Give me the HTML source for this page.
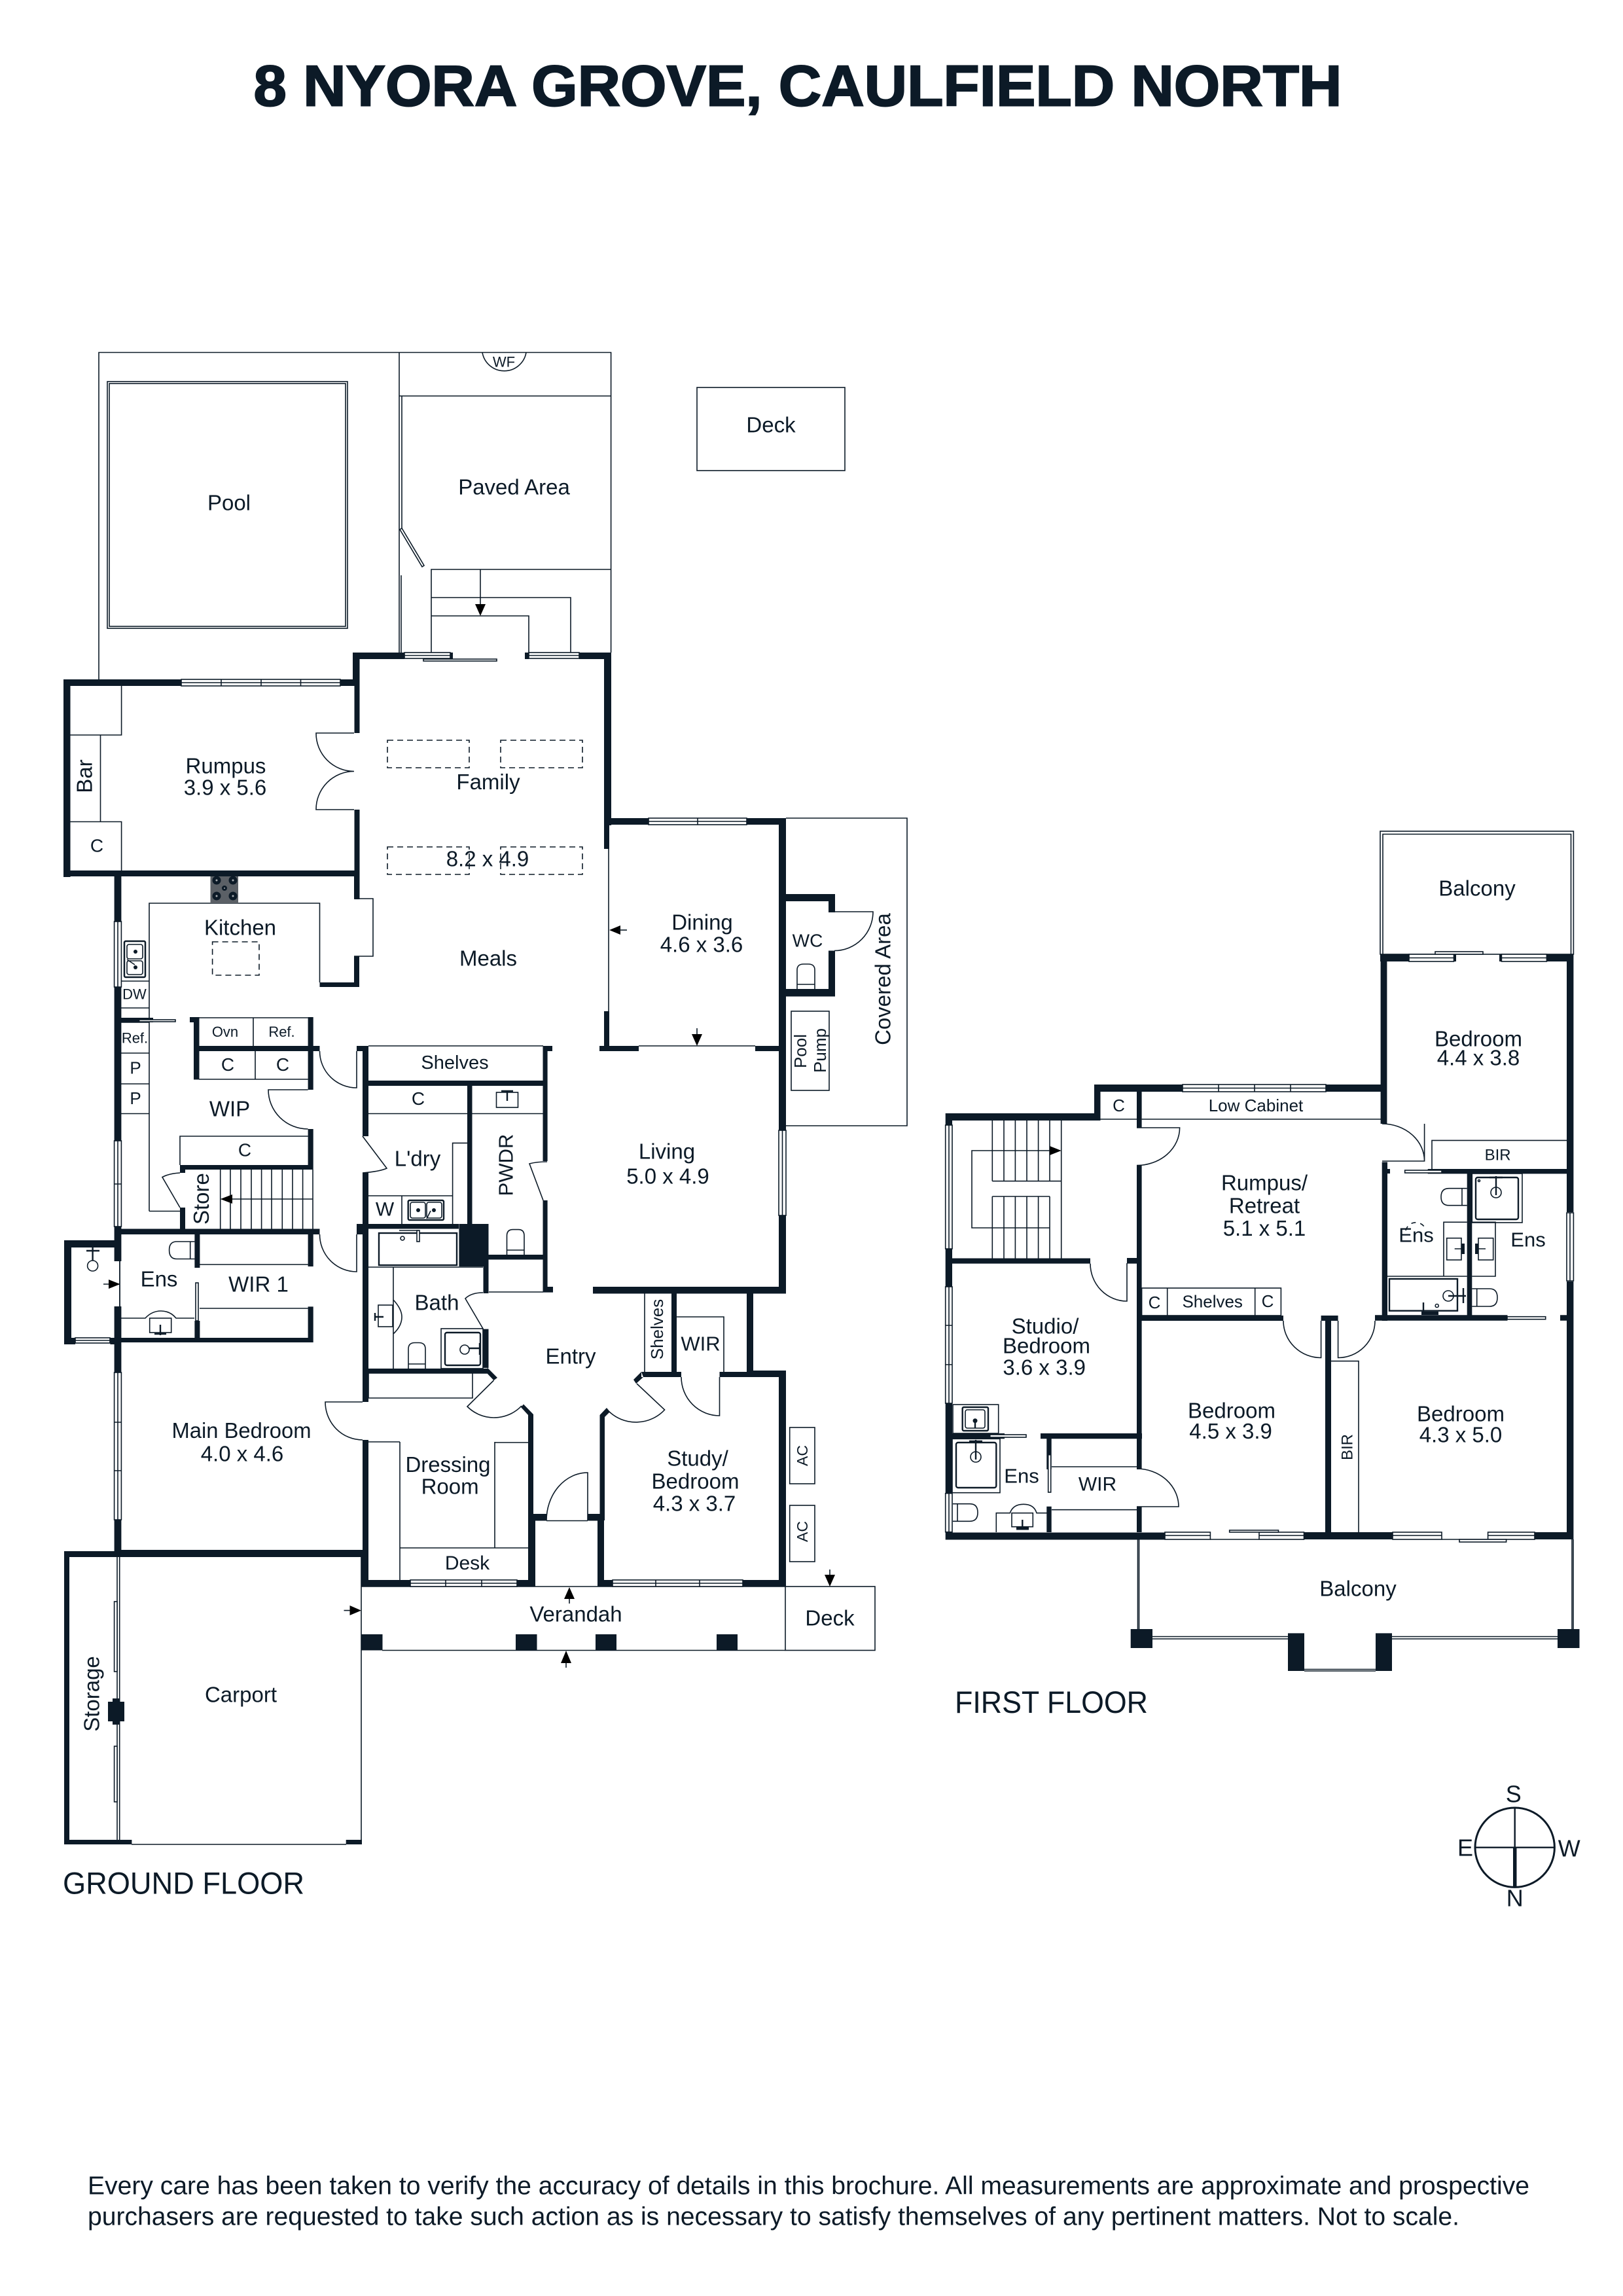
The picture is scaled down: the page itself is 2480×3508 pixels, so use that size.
<!DOCTYPE html>
<html lang="en"><head><meta charset="utf-8"><title>8 Nyora Grove, Caulfield North</title>
<style>
html,body{margin:0;padding:0;background:#fff}
svg{display:block}
text{font-family:"Liberation Sans",sans-serif;fill:#0c1a27;text-anchor:middle;dominant-baseline:central;font-size:33px}
.s{font-size:28px}.xs{font-size:22px}.m{font-size:26px}
.w{fill:#0c1a27;stroke:none}
.l{fill:none;stroke:#0c1a27;stroke-width:1.6}
.f{fill:#fff;stroke:#0c1a27;stroke-width:1.6}
.h{fill:none;stroke:#0c1a27;stroke-width:2.4}
.d{fill:none;stroke:#0c1a27;stroke-width:1.6;stroke-dasharray:9 6}
.a{fill:#000}
</style></head><body>
<svg xmlns="http://www.w3.org/2000/svg" width="2480" height="3508" viewBox="0 0 2480 3508">
<rect width="2480" height="3508" fill="#fff"/>
<text x="1219" y="131" style="font-size:88px;font-weight:bold;stroke:#0c1a27;stroke-width:2" textLength="1663" lengthAdjust="spacingAndGlyphs">8 NYORA GROVE, CAULFIELD NORTH</text>

<!-- thin outlines ground -->
<path class="l" d="M151 1038V538.5H933.6V997M610 538.5V997M610 605H933.6M614 605V807M613 879V997M659 997V870H933.6M659 913H872V997M659 941H808V997"/>
<rect class="l" x="164" y="583" width="367" height="377"/><rect class="l" x="167" y="586" width="361" height="371"/>
<path class="f" d="M611 809L614 807L648 864L645 866Z"/>
<path class="l" d="M737 538.5A34 34 0 0 0 804 538.5"/>
<path class="l" d="M734 870V925"/><path class="a" d="M726 923H742L734 941Z"/>
<rect class="l" x="1065" y="592" width="226" height="127"/>
<!-- rumpus -->
<path class="l" d="M107.5 1123H185.6V1048M153.5 1123V1255.5M107.5 1255.5H185.6V1330M541 1120H483A58 58 0 0 0 541 1178.5M541 1237H483A58 58 0 0 1 541 1178.5"/>
<g class="d"><rect class="d" x="592" y="1131" width="125" height="42"/><rect class="d" x="765" y="1131" width="125" height="42"/><rect class="d" x="592" y="1294" width="125" height="42"/><rect class="d" x="765" y="1294" width="125" height="42"/><rect class="d" x="324.6" y="1439" width="71.4" height="51"/></g>
<!-- kitchen -->
<path class="l" d="M541 1373H570V1461H541M228 1850.5V1380H488.5V1501M228 1850.5H275M185 1499H228M185 1540H228M185 1609H228M185 1656H228M185 1701.5H228M185 1562H228"/>
<rect x="321.5" y="1338" width="42.5" height="42" fill="#5b6066"/>
<g fill="#a9adb1" stroke="#0c1a27" stroke-width="5"><circle cx="331" cy="1345" r="4"/><circle cx="356" cy="1345" r="4"/><circle cx="331" cy="1369" r="4"/><circle cx="356" cy="1369" r="4"/><circle cx="343" cy="1357" r="1.5"/></g>
<rect x="190" y="1438" width="32" height="55" fill="#fff" stroke="#0c1a27" stroke-width="2.5" rx="2"/><rect class="l" x="194" y="1443" width="24" height="22" rx="3"/><rect class="l" x="194" y="1468" width="24" height="21" rx="3"/><circle cx="207" cy="1454" r="3" class="w"/><circle cx="207" cy="1478" r="3" class="w"/><path class="l" d="M194 1466L206 1474"/>
<path class="l" d="M304.5 1555H470.6M387 1555V1598M304 1649H470.6M390 1606V1649M545 1606V1662A56.5 56 0 0 1 488.5 1606M470.6 1665H410A60.6 60 0 0 0 470.6 1725M275 1780V1736H470.6M275 1845L248 1798.5Q258 1793 275 1792"/>
<path class="l" d="M336.7 1787V1877.5M352 1787V1877.5M368 1787V1877.5M384 1787V1877.5M399.6 1787V1877.5M415 1787V1877.5M431.3 1787V1877.5M447 1787V1877.5M462.6 1787V1877.5M478 1787V1877.5M355 1832H478"/>
<path class="a" d="M336.7 1832L355 1825V1839Z"/>
<path class="l" d="M545 1886V1943A56.5 57 0 0 1 488.5 1886M305 1932H470.6M305 1999H470.6"/>
<path class="l" d="M554 1736L591 1785Q580 1790 554 1792M563 1598H830M563 1701.5H714M691.6 1870V1746.4H714M563 1827H691.6M614 1827V1870M563 1936H738M601 1936V2091M601 1986Q614 2000 614 2012Q614 2026 601 2038"/>
<rect x="623.7" y="1834" width="54.3" height="30" fill="#fff" stroke="#0c1a27" stroke-width="2.4" rx="2"/><rect class="l" x="627" y="1837" width="23" height="24" rx="3"/><rect class="l" x="652" y="1837" width="23" height="24" rx="3"/><circle class="w" cx="639" cy="1849" r="3"/><circle class="w" cx="663" cy="1849" r="3"/><path class="l" d="M652 1862L658 1850"/>
<!-- bath -->
<rect class="h" x="579" y="1884" width="119" height="49"/>
<path class="l" d="M610 1880H640"/><rect class="f" x="637" y="1880" width="4" height="17"/><circle class="l" cx="615" cy="1892" r="3"/>
<rect class="l" x="578" y="1994" width="22" height="33"/><path class="h" d="M572 2012H586M573 2006V2018"/>
<path class="l" d="M624 2091V2061Q624 2051.5 634 2051.5H640Q650 2051.5 650 2061V2091M624 2084H650"/>
<rect class="l" x="674" y="2030" width="64" height="61"/><rect class="h" x="680" y="2036" width="54" height="50" rx="3"/><circle class="l" cx="710" cy="2062" r="7"/><path class="h" d="M717 2060H734M733 2052V2070"/>
<!-- ens -->
<path class="l" d="M297.4 1897H270Q258.6 1897 258.6 1910Q258.6 1923.5 270 1923.5H297.4M290.7 1897V1923.5M185 2014H222Q232 2003 246 2003Q260 2003 269 2014H297"/>
<rect class="l" x="228.7" y="2014" width="33" height="22"/><path class="h" d="M245 2024V2040M236 2038H254"/>
<circle class="l" cx="141.6" cy="1934" r="8"/><path class="h" d="M141.6 1926V1906M132 1911H152"/>
<path class="l" d="M183 1927V1996M158 1962H183"/><path class="a" d="M183.6 1962L166 1955V1969Z"/>
<!-- pwdr -->
<rect class="l" x="758.5" y="1669" width="33" height="23"/><path class="h" d="M775 1668V1682M766 1667H784"/><path class="l" d="M721.5 1701.5H829.5"/>
<path class="l" d="M774.5 1917V1888Q774.5 1878.6 784 1878.6H792Q801 1878.6 801 1888V1917M774.5 1910H801"/>
<path class="l" d="M830 1834L809 1778Q820 1775 836 1775"/>
<path class="l" d="M747 1974H830"/>
<!-- dining / wc / covered -->
<path class="l" d="M930 1297V1545M976 1598H1154M1201 1250H1386V1720H1201"/>
<path class="a" d="M931 1421L948 1414V1428Z"/><path class="l" d="M945 1421H958"/>
<path class="l" d="M1065 1571V1585"/><path class="a" d="M1065 1598L1057 1580H1073Z"/>
<path class="l" d="M1275 1393H1334A59 59.5 0 0 1 1275 1452.5"/>
<path class="l" d="M1218 1511V1482Q1218 1473 1228 1473H1235Q1245 1473 1245 1482V1511M1218 1504H1245"/>
<rect class="l" x="1209" y="1545" width="58" height="121"/>
<!-- study etc -->
<path class="l" d="M985 1975V2096M1034 2012H1106V2096M1099.5 2104V2163A58.5 59 0 0 1 1041 2104M973 2114L1015.6 2154A60 60 0 0 1 930 2156M754.5 2109L714 2149A58 58 0 0 0 797 2148M738 2030L711 1984Q720 1975 738 1975M898 2323V2250A63 73 0 0 0 835 2323.5M835 2323.5H898"/>
<rect class="l" x="1206.7" y="2181" width="38.3" height="86"/><rect class="l" x="1206.7" y="2300" width="38.3" height="86"/>
<rect class="l" x="1200" y="2424" width="137" height="97.5"/>
<path class="l" d="M552 2424H1200M584 2521.5H1200M563 2098V2136H722V2098M554 2142H497A57 58 0 0 0 554 2200M563 2203H611M611 2203V2414M756 2203V2365M611 2365H807"/>
<path class="l" d="M756 2204H807"/>
<path class="l" d="M870 2443V2450M865 2535V2548M1268 2398V2410M525.5 2460.6H540"/>
<path class="a" d="M870 2425L862 2443H878ZM865 2522L857 2541H873ZM1268 2424L1260 2406H1276ZM552 2460.6L534.5 2453V2468Z"/>
<!-- carport -->
<path class="l" d="M552 2379V2818M201 2818H529M182.7 2379V2811M179 2379V2600M179 2635V2811"/>
<rect class="f" x="174.6" y="2447" width="4.4" height="107"/><rect class="f" x="174.6" y="2668" width="4.4" height="85"/>
<path class="w" d="M165 2600H172V2595H183V2600H190V2630H183V2635H172V2630H165Z"/>
<!-- walls ground -->
<path class="w" d="M539 997H618V1007H539ZM688 997H692V1007H688ZM802 997H808V1007H802ZM885 997H934V1007H885ZM539 997H549.5V1048H539ZM541.5 1048H549.5V1120H541.5ZM541.5 1237H549.5V1374H541.5ZM97 1038H277V1048H97ZM520 1038H541V1048H520ZM97 1038H107.5V1340H97ZM97 1330H549.5V1339H97ZM923 997H934V1261H923ZM923 1250H931V1297H923ZM923 1545H931V1598H923ZM916 1598H976V1606H916ZM1154 1598H1191V1606H1154ZM923 1250H991V1260H923ZM1141 1250H1201V1260H1141ZM1190 1250H1201V1727H1190ZM1190 1857H1201V1976H1190ZM1201 1366H1276V1377H1201ZM1266 1366H1276V1394H1266ZM1266 1452.5H1276V1522.5H1266ZM1190 1511H1276V1522.5H1190ZM906 1966H1201V1976.5H906ZM1026 1975H1034V2096H1026ZM1141 1975H1151V2094H1141ZM1141 2094H1201V2104H1141ZM980 2096H1041V2104H980ZM1099.5 2096H1151V2104H1099.5ZM980 2096L968 2108L972 2114L983 2104ZM1190 2094H1201V2424H1190ZM913 2414H936V2424H913ZM1135 2414H1201V2424H1135ZM916.5 2162L927 2151L932 2157L924 2165V2323H916.5ZM913 2313H923V2424H913ZM796 2150L800 2145.5L815 2161V2323H807V2162ZM807 2313H818V2424H807ZM807 2313H835V2323.5H807ZM898 2313H916V2323.5H898ZM552 2414H627V2424H552ZM790 2414H818V2424H790ZM174.6 1338H185.4V1408H174.6ZM174.6 1508H185.4V1743H174.6ZM174.6 1874H185.4V1927H174.6ZM174.6 1996H185.4V2097H174.6ZM174.6 2322H185.4V2379H174.6ZM185 1555H234V1562H185ZM541 1338H549V1373H541ZM541 1461H549V1508H541ZM488.5 1501H549V1508H488.5ZM290 1554H304.5V1562H290ZM296 1554H304.5V1649.5H296ZM304.5 1598H488.5V1606H304.5ZM470.6 1554H478.7V1665H470.6ZM470.6 1725H478.7V1787H470.6ZM275 1780H478.7V1787H275ZM275 1780H283V1792H275ZM275 1845H283V1877.5H275ZM174.6 1877.5H488.5V1886H174.6ZM545 1598H563V1606H545ZM554 1598H563V1736H554ZM554 1792H563V2142H554ZM554 2200H563V2414H554ZM563 1651H836V1659H563ZM829.5 1598H836.6V1774H829.5ZM836.6 1598H844V1606H836.6ZM829.5 1834H836.6V1973H829.5ZM829.5 1966H845V1974.6H829.5ZM714 1659H721.5V1870H714ZM701.4 1870H746.5V1935H701.4ZM545 1870H701V1877.5H545ZM545 1877.5H563V1886H545ZM738.5 1935H746.5V1976H738.5ZM738.5 2030.6H746.5V2090H738.5ZM746 1917H830V1924.5H746ZM554 2091H745V2098.8H554ZM744.6 2089.5L760 2105L754.5 2109L744.6 2098.6ZM297.4 1886H305.4V1937H297.4ZM297.4 2018H305.4V2051H297.4ZM470.6 1886H478.7V1935H470.6ZM470.6 1996.4H478.7V2051H470.6ZM174.6 2044H478.7V2051H174.6ZM98 1895H174.6V1906H98ZM98 1895H109V2054H98ZM98 2044H115V2054H98ZM168.4 2044H174.6V2054H168.4ZM174.6 2368H563V2379H174.6ZM98 2370H174.6V2379H98ZM98 2370H106V2818H98ZM98 2811H201.4V2818H98ZM528.7 2811H553V2818H528.7ZM552 2379H563V2422H552ZM552 2497H584.5V2521.5H552ZM788 2497H820.5V2521.5H788ZM910 2497H942V2521.5H910ZM1095 2497H1127V2521.5H1095Z"/>
<!-- windows ground -->
<g class="f">
<rect class="f" x="277" y="1038" width="243" height="10"/><rect class="f" x="618" y="997" width="70" height="9"/><rect class="f" x="808" y="997" width="77" height="9"/><rect class="f" x="647" y="1007" width="112" height="3"/><rect class="f" x="991" y="1250" width="150" height="10"/><rect class="f" x="936" y="2414" width="199" height="10"/><rect class="f" x="627" y="2414" width="163" height="10"/><rect class="f" x="115" y="2044" width="53" height="8"/><rect class="f" x="174.6" y="1408" width="10.8" height="100"/><rect class="f" x="174.6" y="1743" width="10.8" height="131"/><rect class="f" x="174.6" y="2097" width="10.8" height="225"/><rect class="f" x="1190" y="1727" width="11" height="130"/><rect class="f" x="212.6" y="1558" width="55.4" height="3"/><rect class="f" x="299" y="1960" width="4" height="58"/>
</g>
<path class="l" d="M277 1043H520M338 1038V1048M399 1038V1048M459.5 1038V1048M618 1001.5H688M808 1001.5H885M991 1255H1141M1066 1250V1260M936 2419H1135M1002 2414V2424M1069 2414V2424M627 2419H790M681 2414V2424M736 2414V2424M115 2048H168M180 1408V1508M180 1743V1874M174.6 1809H185.4M180 2097V2322M174.6 2173H185.4M174.6 2247H185.4M1195.5 1727V1857M183 1927V1996"/>

<!-- FIRST FLOOR thin -->
<rect class="l" x="2109" y="1270" width="295.4" height="188"/><path class="l" d="M2113 1458V1274.5H2400.5V1458"/>
<path class="l" d="M1744.6 1710H2111M1681.5 1710H1737M1737 1723H1802.6A65.6 57.6 0 0 1 1737 1780.6M2112 1774H2176.6A64.6 57 0 0 0 2112 1717M2176.6 1717V1774M2188 1786V1742.4H2394"/>
<path class="l" d="M1516.3 1712V1804.6M1534 1712V1804.6M1551.4 1712V1804.6M1569 1712V1804.6M1586.6 1712V1804.6M1604 1712V1804.6M1621.7 1712V1922.5M1516.3 1804.6H1621.7M1516.3 1828H1604M1516.3 1828V1922.5M1534 1828V1922.5M1551.4 1828V1922.5M1569 1828V1922.5M1586.6 1828V1922.5M1604 1828V1922.5M1604 1758H1485V1876H1604"/>
<path class="a" d="M1621.7 1758L1604 1751V1765Z"/>
<path class="l" d="M1722 1930V1988A56 57.4 0 0 1 1666 1930.6"/>
<rect class="l" x="1744.6" y="1968" width="212.8" height="42"/><path class="l" d="M1783.7 1968V2010M1917.7 1968V2010"/>
<path class="l" d="M2018.6 2018V2074.5A57.6 56.5 0 0 1 1961 2018M2044.6 2018V2074.5A56.4 56.5 0 0 0 2101 2018M2034 2079.6H2076V2341"/>
<!-- ens first floor -->
<rect class="l" x="2249.3" y="1793" width="76.7" height="75"/><rect class="h" x="2255" y="1799" width="65" height="64" rx="3"/><circle class="l" cx="2286" cy="1822" r="8"/><path class="h" d="M2286 1826V1797M2276 1799H2296"/><circle class="l" cx="2260" cy="1804" r="1.5"/>
<path class="l" d="M2241.7 1815.7H2214Q2202 1815.7 2202 1828.7Q2202 1841.7 2214 1841.7H2241.7M2234 1815.7V1841.7"/>
<path class="l" d="M2206 1950V1867.3H2241.7M2249.3 1867.3H2285V1950H2249.3M2120 1950H2241.7"/>
<rect class="l" x="2210.7" y="1891.7" width="22.3" height="33.3"/><rect class="l" x="2259" y="1891.7" width="22.7" height="33.3"/><path class="l" d="M2222.7 1908H2236M2256.7 1908H2270"/><path class="w" d="M2233 1900H2238V1916H2233ZM2254 1900H2259V1916H2254Z"/>
<rect class="h" x="2123" y="1954" width="104" height="48.7"/><circle class="l" cx="2213" cy="1980" r="8"/><path class="h" d="M2213 1980H2240M2236 1968V1991M2175 1990V2008"/><circle class="l" cx="2195.7" cy="1995" r="2.5"/><path class="w" d="M2172 2004H2198V2009H2172Z"/>
<path class="l" d="M2249.3 1969H2276Q2288 1969 2288 1982.5Q2288 1996 2276 1996H2249.3M2256.7 1969V1996"/>
<path class="d" d="M2148 1880A16 16 0 0 1 2178 1877" style="stroke-dasharray:7 7"/>
<!-- left ens / wir -->
<rect class="l" x="1456" y="2146" width="69.7" height="44"/><rect class="h" x="1470.7" y="2150" width="39.3" height="36" rx="2"/><rect class="l" x="1475" y="2154" width="30" height="28" rx="3"/><circle class="w" cx="1490" cy="2170.7" r="3.5"/><path class="h" d="M1490 2171V2182"/>
<rect class="l" x="1455" y="2198.3" width="73" height="82.4"/><rect class="h" x="1461" y="2204" width="61.3" height="69" rx="3"/><circle class="l" cx="1491" cy="2226" r="8"/><path class="h" d="M1491 2230V2200M1481 2202H1501"/>
<path class="l" d="M1607 2241H1737M1607 2306.7H1737M1737 2302H1801A64 58 0 0 0 1737 2244"/>
<path class="l" d="M1456 2297.7H1482Q1494 2297.7 1494 2311Q1494 2324.3 1482 2324.3H1456M1463 2297.7V2324.3"/>
<path class="l" d="M1522.3 2341V2311.7H1543.3Q1548 2298.3 1564 2298.3Q1580 2298.3 1584 2311.7H1599.6"/>
<rect class="l" x="1546" y="2311.7" width="32.3" height="21"/><path class="h" d="M1562.3 2322V2336"/><path class="w" d="M1553 2333.5H1572V2337.5H1553Z"/>
<path class="l" d="M1738.5 2352V2489M1740.5 2352V2489M2402 2352V2489M2404 2352V2489M1761 2500.5H1968M1761 2504H1968M2127 2500.5H2380M2127 2504H2380M1993 2550.5H2102M1993 2553H2102M1849 2352H1924M2203 2352H2274"/>
<!-- walls first floor -->
<path class="w" d="M2109 1458H2153V1469H2109ZM2221.5 1458H2225V1469H2221.5ZM2291 1458H2294.4V1469H2291ZM2363.4 1458H2404.4V1469H2363.4ZM2109.6 1458H2119.4V1717H2109.6ZM2111.7 1775.5H2120V2018H2111.7ZM2394 1458H2404.4V1852H2394ZM2394 1958H2404.4V2351.5H2394ZM1672 1657H1807V1668H1672ZM2026 1657H2109.6V1668H2026ZM1672 1657H1681.5V1712H1672ZM1444.7 1701H1681.5V1712H1444.7ZM1444.7 1701H1455V1719H1444.7ZM1444.7 1908H1455V1966H1444.7ZM1444.7 2144H1455V2281.6H1444.7ZM1444.7 2341.5H1780V2352.5H1444.7ZM1992.5 2341H2128V2352H1992.5ZM2345 2341H2404.4V2352H2345ZM1737 1668H1744.6V1723.5H1737ZM1737 1780.6H1744.6V2245H1737ZM1737 2301.7H1744.6V2341H1737ZM1722 1922H1737V1930.6H1722ZM2181.7 1786H2394V1793.4H2181.7ZM2241.7 1793H2249.3V2010H2241.7ZM1744.6 2010H1961V2018H1744.6ZM2018.6 2010H2044.6V2018H2018.6ZM2101 2009.3H2303.5V2017.7H2101ZM2384 2009.3H2394V2017.7H2384ZM1455 1922.5H1666V1930.6H1455ZM1445 2190H1535V2198.3H1445ZM1590 2190H1745V2198.3H1590ZM1599.3 2198H1606.7V2245H1599.3ZM1599.3 2301.7H1606.7V2341H1599.3ZM2025 2018H2034V2341H2025ZM1727.7 2489H1761V2518H1727.7ZM2380 2489H2413.5V2518H2380ZM1968 2495.4H1993V2553H1968ZM2102 2495.4H2127V2553H2102Z"/>
<path class="w" d="M2120 1786H2124V1793H2120Z"/>
<g>
<rect class="f" x="1807" y="1657" width="219" height="11"/><rect class="f" x="2153" y="1458" width="68.5" height="11"/><rect class="f" x="2294.4" y="1458" width="69" height="11"/><rect class="f" x="2193" y="1454" width="73" height="4"/><rect class="f" x="1780" y="2341" width="69.4" height="11"/><rect class="f" x="1924" y="2341" width="68.5" height="11"/><rect class="f" x="2128" y="2341" width="75" height="11"/><rect class="f" x="2273.6" y="2341" width="71.4" height="11"/><rect class="f" x="1878.7" y="2338" width="74.8" height="3"/><rect class="f" x="2230" y="2352" width="71.6" height="4"/><rect class="f" x="2394" y="1853" width="10.4" height="104"/><rect class="f" x="1444.7" y="1719" width="10.3" height="189"/><rect class="f" x="1444.7" y="1966" width="10.3" height="178"/><rect class="f" x="1444.7" y="2281.7" width="10.3" height="59"/><rect class="f" x="2146.7" y="1788" width="56.3" height="4"/><rect class="f" x="2303" y="2011.7" width="58.7" height="4"/><rect class="f" x="1512.7" y="2192" width="55.3" height="4"/><rect class="f" x="1601.7" y="2222.7" width="4" height="57.3"/>
</g>
<path class="l" d="M1807 1662.5H2026M1862 1657V1668M1917 1657V1668M1972 1657V1668M2153 1463.5H2221.5M2294.4 1463.5H2363.4M1780 2346H1849M1924 2346H1992.5M2128 2346H2203M2273.6 2346H2345M2399 1853V1957M1450 1719V1908M1450 1966V2144M1444.7 2025H1455M1444.7 2085H1455M1450 2281.7V2340.7"/>
<!-- compass -->
<circle cx="2314.7" cy="2822.7" r="60.7" fill="none" stroke="#0c1a27" stroke-width="3"/>
<path class="l" style="stroke-width:2.4" d="M2314.7 2762V2822.7M2254 2822.7H2375.4"/>
<rect class="w" x="2312" y="2822.7" width="5.5" height="60.7"/>
<g style="font-size:36px"><text x="2312.7" y="2741" style="font-size:36px">S</text><text x="2239" y="2823" style="font-size:36px">E</text><text x="2397.7" y="2824" style="font-size:36px">W</text><text x="2314.7" y="2900" style="font-size:36px">N</text></g>

<!-- labels ground -->
<text x="770" y="553" class="xs">WF</text>
<text x="350" y="768">Pool</text><text x="785.5" y="744">Paved Area</text><text x="1178" y="649">Deck</text>
<text x="345" y="1170">Rumpus</text><text x="344" y="1203">3.9 x 5.6</text>
<text x="746" y="1194.6">Family</text><text x="745" y="1312">8.2 x 4.9</text>
<text x="129" y="1186" transform="rotate(-90 129 1186)">Bar</text><text x="148" y="1292" class="s">C</text>
<text x="367" y="1417">Kitchen</text><text x="746" y="1464">Meals</text>
<text x="1073" y="1409">Dining</text><text x="1072" y="1443">4.6 x 3.6</text>
<text x="1234" y="1437" class="s">WC</text>
<text x="1349" y="1496" transform="rotate(-90 1349 1496)">Covered Area</text>
<text x="1223" y="1606" class="m" transform="rotate(-90 1223 1606)">Pool</text><text x="1253" y="1605" class="m" transform="rotate(-90 1253 1605)">Pump</text>
<text x="205.4" y="1519" class="xs">DW</text><text x="206" y="1586" class="xs">Ref.</text><text x="207" y="1631.6" class="s" style="font-size:26px">P</text><text x="207" y="1678" class="s" style="font-size:26px">P</text>
<text x="344" y="1576.5" class="xs">Ovn</text><text x="430.5" y="1576.5" class="xs">Ref.</text>
<text x="348" y="1626.5" class="s">C</text><text x="432" y="1626.5" class="s">C</text>
<text x="351" y="1694">WIP</text><text x="374" y="1757" class="s">C</text>
<text x="307.7" y="1831.6" transform="rotate(-90 307.7 1831.6)">Store</text>
<text x="695" y="1624" style="font-size:29px">Shelves</text><text x="639" y="1678.6" class="s">C</text>
<text x="638" y="1770">L'dry</text><text x="588" y="1848" class="s" style="font-size:30px">W</text>
<text x="773" y="1780" transform="rotate(-90 773 1780)" style="font-size:31px">PWDR</text>
<text x="1019" y="1759">Living</text><text x="1020.5" y="1797">5.0 x 4.9</text>
<text x="243" y="1954">Ens</text><text x="395" y="1962">WIR 1</text><text x="667.5" y="1990">Bath</text>
<text x="872" y="2072">Entry</text>
<text x="1004" y="2031" class="m" transform="rotate(-90 1004 2031)">Shelves</text><text x="1070.5" y="2053" style="font-size:31px">WIR</text>
<text x="369" y="2185.5" textLength="213" lengthAdjust="spacingAndGlyphs">Main Bedroom</text><text x="370" y="2221">4.0 x 4.6</text>
<text x="684.5" y="2237.5" textLength="130" lengthAdjust="spacingAndGlyphs">Dressing</text><text x="687.6" y="2271">Room</text>
<text x="1066" y="2228">Study/</text><text x="1062.5" y="2263" textLength="134" lengthAdjust="spacingAndGlyphs">Bedroom</text><text x="1061" y="2297">4.3 x 3.7</text>
<text x="1226" y="2224" class="m" style="font-size:23px" transform="rotate(-90 1226 2224)">AC</text><text x="1226" y="2340" class="m" style="font-size:23px" transform="rotate(-90 1226 2340)">AC</text>
<text x="714" y="2388.5" style="font-size:30px">Desk</text><text x="880" y="2466">Verandah</text><text x="1268" y="2472">Deck</text>
<text x="368" y="2589">Carport</text><text x="140" y="2588" transform="rotate(-90 140 2588)">Storage</text>
<text x="96" y="2877" style="font-size:47px;text-anchor:start" textLength="369" lengthAdjust="spacingAndGlyphs">GROUND FLOOR</text>

<!-- labels first -->
<text x="2257" y="1357">Balcony</text>
<text x="2259" y="1587" textLength="134" lengthAdjust="spacingAndGlyphs">Bedroom</text><text x="2259" y="1616">4.4 x 3.8</text>
<text x="1709.5" y="1689" class="m">C</text><text x="1919" y="1689" class="m">Low Cabinet</text><text x="2288.6" y="1765" class="m" style="font-size:24px">BIR</text>
<text x="1932" y="1807">Rumpus/</text><text x="1932" y="1842">Retreat</text><text x="1932" y="1876.5">5.1 x 5.1</text>
<text x="2164" y="1887" style="font-size:31px">Ens</text><text x="2335" y="1894" style="font-size:31px">Ens</text>
<text x="1764" y="1990" class="m">C</text><text x="1852.7" y="1988.3" class="m">Shelves</text><text x="1937" y="1988" class="m">C</text>
<text x="1597" y="2026">Studio/</text><text x="1599" y="2056" textLength="134" lengthAdjust="spacingAndGlyphs">Bedroom</text><text x="1595.7" y="2089">3.6 x 3.9</text>
<text x="1882" y="2155" textLength="134" lengthAdjust="spacingAndGlyphs">Bedroom</text><text x="1880.6" y="2186.7">4.5 x 3.9</text>
<text x="2232" y="2160" textLength="134" lengthAdjust="spacingAndGlyphs">Bedroom</text><text x="2232" y="2192">4.3 x 5.0</text>
<text x="2059" y="2211" class="m" style="font-size:24px" transform="rotate(-90 2059 2211)">BIR</text>
<text x="1561" y="2255" style="font-size:31px">Ens</text><text x="1677" y="2268" style="font-size:30px">WIR</text>
<text x="2075" y="2427">Balcony</text>
<text x="1459" y="2600.5" style="font-size:47px;text-anchor:start" textLength="295" lengthAdjust="spacingAndGlyphs">FIRST FLOOR</text>

<!-- footer -->
<text x="134" y="3340" style="font-size:39px;text-anchor:start" textLength="2203" lengthAdjust="spacingAndGlyphs">Every care has been taken to verify the accuracy of details in this brochure. All measurements are approximate and prospective</text>
<text x="134" y="3387" style="font-size:39px;text-anchor:start" textLength="2096" lengthAdjust="spacingAndGlyphs">purchasers are requested to take such action as is necessary to satisfy themselves of any pertinent matters. Not to scale.</text>
</svg>
</body></html>
